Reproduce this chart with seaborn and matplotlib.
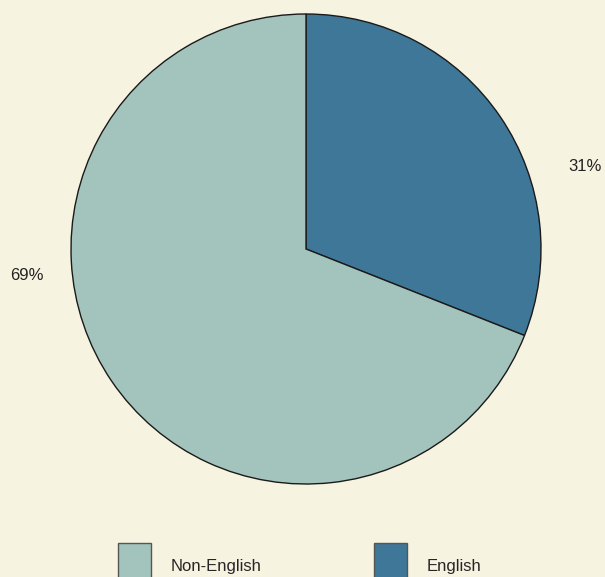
import matplotlib
matplotlib.use("Agg")
import matplotlib.pyplot as plt
from matplotlib.patches import Patch
import seaborn as sns

sns.set_theme(style="white")
plt.rcParams['font.family'] = ['Liberation Sans', 'DejaVu Sans']

# data
labels = ["English", "Non-English"]
shares = [31, 69]
colors = ["#3e7797", "#a3c4bc"]
bg = "#f7f3e1"

fig = plt.figure(figsize=(6.05, 5.77), dpi=100, facecolor=bg)
# pie: 470 px across, centred at (306, 249) from the top-left
ax = fig.add_axes([71 / 605, 93 / 577, 470 / 605, 470 / 577])
ax.set_facecolor(bg)

wedges, texts = ax.pie(shares, colors=colors, startangle=90, counterclock=False,
                       labels=[f"{s}%" for s in shares], labeldistance=1.2,
                       wedgeprops=dict(edgecolor="#1a1a1a", linewidth=1.0))
# percentage labels sit beside the pie
texts[0].set_position((1.187, 0.353))
texts[1].set_position((-1.187, -0.111))
for t in texts:
    t.set_fontsize(12)
    t.set_color("#222222")
    t.set_ha("center")
    t.set_va("center")
ax.set_xlim(-1, 1)
ax.set_ylim(-1, 1)
ax.set_aspect("equal")
ax.axis("off")

# legend along the bottom, Non-English first; swatches run off the bottom edge
handles = [Patch(facecolor=colors[1], edgecolor="#555555", label=labels[1]),
           Patch(facecolor=colors[0], edgecolor="#555555", label=labels[0])]
fig.legend(handles=handles, loc="center", bbox_to_anchor=(300 / 605, 11 / 577),
           ncol=2, frameon=False, fontsize=12, handlelength=1.95, handleheight=3.85,
           handletextpad=1.2, columnspacing=6.75, borderpad=0)

fig.savefig("out.png", dpi=100, facecolor=bg)
